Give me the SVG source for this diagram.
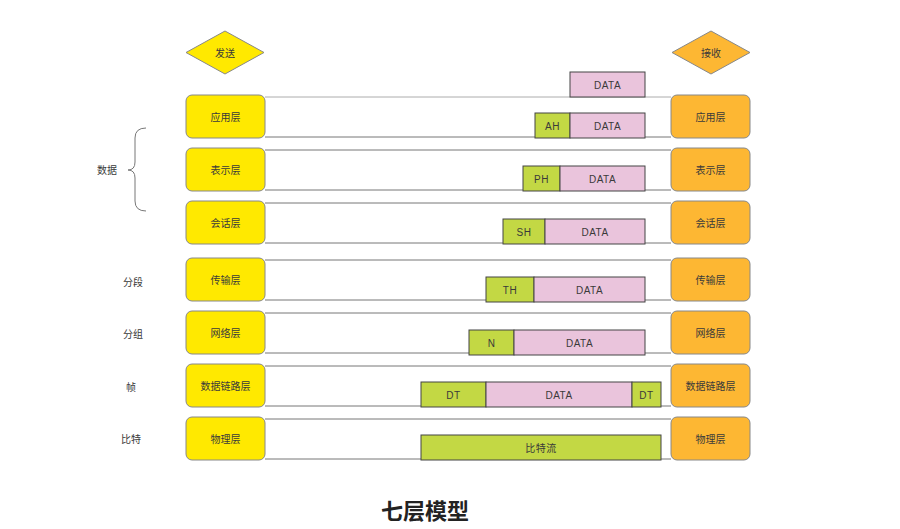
<svg xmlns="http://www.w3.org/2000/svg" width="900" height="529" viewBox="0 0 900 529">
<style>
text{font-family:"Liberation Sans","Noto Sans CJK SC",sans-serif;fill:#3a3a3a;text-anchor:middle;dominant-baseline:central}
.lbl{font-size:10px}
.pk{font-size:10px;letter-spacing:0.5px}
.snd{fill:#FFE900;stroke:#888;stroke-width:1}
.rcv{fill:#FDB733;stroke:#888;stroke-width:1}
.hd{fill:#C3D844;stroke:#444;stroke-width:1}
.dt{fill:#EAC4DC;stroke:#444;stroke-width:1}
.ln{stroke:#777;stroke-width:1;fill:none}
.title{font-size:22px;font-weight:bold;fill:#222}
</style>
<rect width="900" height="529" fill="#fff"/>
<g id="connectors">
<line class="ln" x1="265" y1="97" x2="671" y2="97" stroke-opacity="0.6"/>
<line class="ln" x1="265" y1="137" x2="671" y2="137"/>
<line class="ln" x1="265" y1="150" x2="671" y2="150"/>
<line class="ln" x1="265" y1="190" x2="671" y2="190"/>
<line class="ln" x1="265" y1="203" x2="671" y2="203"/>
<line class="ln" x1="265" y1="243" x2="671" y2="243"/>
<line class="ln" x1="265" y1="260" x2="671" y2="260"/>
<line class="ln" x1="265" y1="300" x2="671" y2="300"/>
<line class="ln" x1="265" y1="313" x2="671" y2="313"/>
<line class="ln" x1="265" y1="353" x2="671" y2="353"/>
<line class="ln" x1="265" y1="366" x2="671" y2="366"/>
<line class="ln" x1="265" y1="406" x2="671" y2="406"/>
<line class="ln" x1="265" y1="419" x2="671" y2="419"/>
<line class="ln" x1="265" y1="459" x2="671" y2="459"/>
<path class="ln" d="M146,128 Q135,128 135,138 L135,162 Q135,170 128,170 Q135,170 135,178 L135,201 Q135,211 146,211" stroke="#666"/>
</g>
<g id="send"><polygon class="snd" points="225,31 264,52.5 225,74 186,52.5"/><text class="lbl" x="225" y="53">发送</text></g>
<g id="recv"><polygon class="rcv" points="711,31 750,52.5 711,74 672,52.5"/><text class="lbl" x="711" y="53">接收</text></g>
<g id="s1"><rect class="snd" x="186" y="95" width="79" height="43" rx="6"/><text class="lbl" x="225.5" y="117">应用层</text></g>
<g id="s2"><rect class="snd" x="186" y="148" width="79" height="43" rx="6"/><text class="lbl" x="225.5" y="170">表示层</text></g>
<g id="s3"><rect class="snd" x="186" y="201" width="79" height="43" rx="6"/><text class="lbl" x="225.5" y="223">会话层</text></g>
<g id="s4"><rect class="snd" x="186" y="258" width="79" height="43" rx="6"/><text class="lbl" x="225.5" y="280">传输层</text></g>
<g id="s5"><rect class="snd" x="186" y="311" width="79" height="43" rx="6"/><text class="lbl" x="225.5" y="333">网络层</text></g>
<g id="s6"><rect class="snd" x="186" y="364" width="79" height="43" rx="6"/><text class="lbl" x="225.5" y="386">数据链路层</text></g>
<g id="s7"><rect class="snd" x="186" y="417" width="79" height="43" rx="6"/><text class="lbl" x="225.5" y="439">物理层</text></g>
<g id="r1"><rect class="rcv" x="671" y="95" width="79" height="43" rx="6"/><text class="lbl" x="710.5" y="117">应用层</text></g>
<g id="r2"><rect class="rcv" x="671" y="148" width="79" height="43" rx="6"/><text class="lbl" x="710.5" y="170">表示层</text></g>
<g id="r3"><rect class="rcv" x="671" y="201" width="79" height="43" rx="6"/><text class="lbl" x="710.5" y="223">会话层</text></g>
<g id="r4"><rect class="rcv" x="671" y="258" width="79" height="43" rx="6"/><text class="lbl" x="710.5" y="280">传输层</text></g>
<g id="r5"><rect class="rcv" x="671" y="311" width="79" height="43" rx="6"/><text class="lbl" x="710.5" y="333">网络层</text></g>
<g id="r6"><rect class="rcv" x="671" y="364" width="79" height="43" rx="6"/><text class="lbl" x="710.5" y="386">数据链路层</text></g>
<g id="r7"><rect class="rcv" x="671" y="417" width="79" height="43" rx="6"/><text class="lbl" x="710.5" y="439">物理层</text></g>
<g id="p0"><rect class="dt" x="570" y="72" width="75" height="25"/><text class="pk" x="607.5" y="85">DATA</text></g>
<g id="p1"><rect class="hd" x="535" y="113" width="35" height="25"/><text class="pk" x="552.5" y="126">AH</text><rect class="dt" x="570" y="113" width="75" height="25"/><text class="pk" x="607.5" y="126">DATA</text></g>
<g id="p2"><rect class="hd" x="523" y="166" width="37" height="25"/><text class="pk" x="541.5" y="179">PH</text><rect class="dt" x="560" y="166" width="85" height="25"/><text class="pk" x="602.5" y="179">DATA</text></g>
<g id="p3"><rect class="hd" x="503" y="219" width="42" height="25"/><text class="pk" x="524" y="232">SH</text><rect class="dt" x="545" y="219" width="100" height="25"/><text class="pk" x="595" y="232">DATA</text></g>
<g id="p4"><rect class="hd" x="486" y="277" width="48" height="25"/><text class="pk" x="510" y="290">TH</text><rect class="dt" x="534" y="277" width="111" height="25"/><text class="pk" x="589.5" y="290">DATA</text></g>
<g id="p5"><rect class="hd" x="469" y="330" width="45" height="25"/><text class="pk" x="491.5" y="343">N</text><rect class="dt" x="514" y="330" width="131" height="25"/><text class="pk" x="579.5" y="343">DATA</text></g>
<g id="p6"><rect class="hd" x="421" y="382" width="65" height="25"/><text class="pk" x="453.5" y="395">DT</text><rect class="dt" x="486" y="382" width="146" height="25"/><text class="pk" x="559" y="395">DATA</text><rect class="hd" x="632" y="382" width="29" height="25"/><text class="pk" x="646.5" y="395">DT</text></g>
<g id="p7"><rect class="hd" x="421" y="435" width="240" height="25"/><text class="pk" x="541" y="448">比特流</text></g>
<g id="labels">
<text class="lbl" x="107" y="170">数据</text>
<text class="lbl" x="133" y="282">分段</text>
<text class="lbl" x="133" y="334">分组</text>
<text class="lbl" x="131" y="387">帧</text>
<text class="lbl" x="131" y="439">比特</text>
</g>
<text class="title" x="425" y="511">七层模型</text>
</svg>
